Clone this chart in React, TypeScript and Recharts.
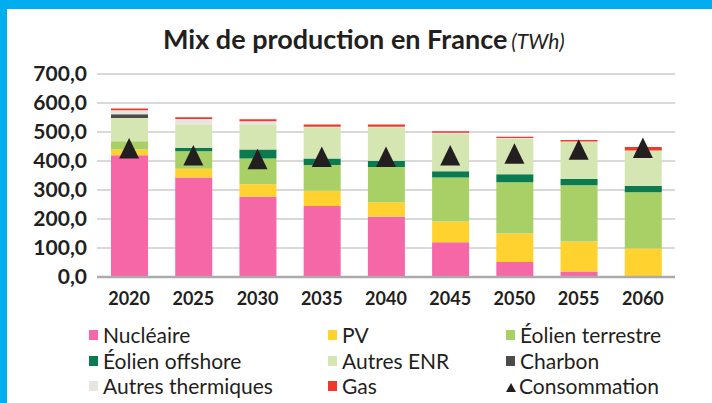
import React from "react";
import { ComposedChart, Bar, Line, XAxis, YAxis, CartesianGrid } from "recharts";

// Mix de production en France (TWh)
const years = ["2020", "2025", "2030", "2035", "2040", "2045", "2050", "2055", "2060"];
const nucleaire = [420, 343, 277, 245, 208, 120, 52, 19, 0];
const pv = [20, 30, 43, 52, 50, 71, 98, 103, 98];
const eolienTerrestre = [28, 61, 89, 89, 121, 152, 177, 194, 194];
const eolienOffshore = [0, 12, 31, 23, 22, 22, 27, 22, 22];
const autresEnr = [80, 78, 84, 107, 115, 128, 123, 128, 121];
const charbon = [13, 0, 0, 0, 0, 0, 0, 0, 0];
const autresThermiques = [14, 21, 13, 2, 2, 4, 2, 1, 1];
const gas = [6, 6, 7, 8, 8, 6, 5, 5, 12];
const consommation = [443, 419, 406, 414, 414, 419, 425, 439, 445];
const yTicks = [0, 100, 200, 300, 400, 500, 600, 700];

const series = [
  { key: "nucleaire", name: "Nucléaire", values: nucleaire, color: "#F567A6" },
  { key: "pv", name: "PV", values: pv, color: "#FFD22F" },
  { key: "eolienTerrestre", name: "Éolien terrestre", values: eolienTerrestre, color: "#A9D067" },
  { key: "eolienOffshore", name: "Éolien offshore", values: eolienOffshore, color: "#0B7A50" },
  { key: "autresEnr", name: "Autres ENR", values: autresEnr, color: "#D5E6B3" },
  { key: "charbon", name: "Charbon", values: charbon, color: "#4B4B4D" },
  { key: "autresThermiques", name: "Autres thermiques", values: autresThermiques, color: "#E8E5E1" },
  { key: "gas", name: "Gas", values: gas, color: "#EE3A2C" },
];

const data = years.map((year, i) => {
  const row: Record<string, string | number> = { year, consommation: consommation[i] };
  series.forEach((s) => {
    row[s.key] = s.values[i];
  });
  return row;
});

const FONT = "Lato, 'Open Sans', sans-serif";
const TEXT = "#231F20";

// legend order: three columns, row by row
const legendItems = [
  ...series.map((s) => ({ name: s.name, color: s.color, triangle: false })),
  { name: "Consommation", color: TEXT, triangle: true },
];
const legendCols = [89, 328, 506];
const legendRows = [334, 360, 385];

const Triangle = (props: any) => {
  const { cx, cy } = props;
  if (cx == null || cy == null) return null;
  return (
    <polygon
      points={`${cx},${cy - 10.5} ${cx - 10},${cy + 10} ${cx + 10},${cy + 10}`}
      fill={TEXT}
    />
  );
};

export default function App() {
  return (
    <div
      style={{
        position: "absolute",
        left: 0,
        top: 0,
        width: 712,
        height: 403,
        background: "#00AEEF",
        overflow: "hidden",
        fontFamily: FONT,
        color: TEXT,
      }}
    >
      <div
        style={{
          position: "absolute",
          left: 7,
          top: 9,
          width: 705,
          height: 394,
          background: "#fff",
        }}
      />

      {/* title */}
      <div
        style={{
          position: "absolute",
          left: 163,
          top: 22,
          whiteSpace: "nowrap",
        }}
      >
        <span style={{ fontSize: 27, fontWeight: 700 }}>Mix de production en France</span>
        <span style={{ fontSize: 21, fontStyle: "italic", fontWeight: 400, marginLeft: 4 }}>(TWh)</span>
      </div>

      <div style={{ position: "absolute", left: 0, top: 0 }}>
        <ComposedChart
          width={712}
          height={403}
          data={data}
          margin={{ top: 74, right: 37, bottom: 96, left: 0 }}
        >
          <CartesianGrid vertical={false} stroke="#B3B3B3" strokeWidth={1.2} />
          <XAxis
            dataKey="year"
            height={30}
            tickLine={false}
            tickSize={0}
            tickMargin={15}
            axisLine={{ stroke: "#ABABAB", strokeWidth: 2.5 }}
            tick={{ fill: TEXT, fontSize: 18, fontWeight: 700, fontFamily: FONT }}
            interval={0}
          />
          <YAxis
            width={97}
            domain={[0, 700]}
            ticks={yTicks}
            interval={0}
            axisLine={false}
            tickLine={false}
            tickSize={0}
            tickMargin={10}
            tickFormatter={(v: number) => v.toFixed(1).replace(".", ",")}
            tick={{ fill: TEXT, fontSize: 21, fontWeight: 700, fontFamily: FONT }}
          />
          {series.map((s) => (
            <Bar
              key={s.key}
              dataKey={s.key}
              name={s.name}
              stackId="mix"
              fill={s.color}
              barSize={37}
              isAnimationActive={false}
            />
          ))}
          <Line
            dataKey="consommation"
            name="Consommation"
            stroke="none"
            dot={<Triangle />}
            activeDot={false}
            isAnimationActive={false}
          />
        </ComposedChart>
      </div>

      {/* legend */}
      {legendItems.map((item, i) => {
        const x = legendCols[i % 3];
        const y = legendRows[Math.floor(i / 3)];
        return (
          <div
            key={item.name}
            style={{
              position: "absolute",
              left: x,
              top: y - 14,
              height: 28,
              display: "flex",
              alignItems: "center",
              fontSize: 21,
              whiteSpace: "nowrap",
            }}
          >
            {item.triangle ? (
              <svg width={10} height={9} style={{ marginRight: 3, marginTop: 5 }}>
                <polygon points="5,0 0,9 10,9" fill={item.color} />
              </svg>
            ) : (
              <span
                style={{
                  display: "inline-block",
                  width: 9,
                  height: 10,
                  background: item.color,
                  marginRight: 5,
                  marginTop: 2,
                }}
              />
            )}
            <span>{item.name}</span>
          </div>
        );
      })}
    </div>
  );
}
